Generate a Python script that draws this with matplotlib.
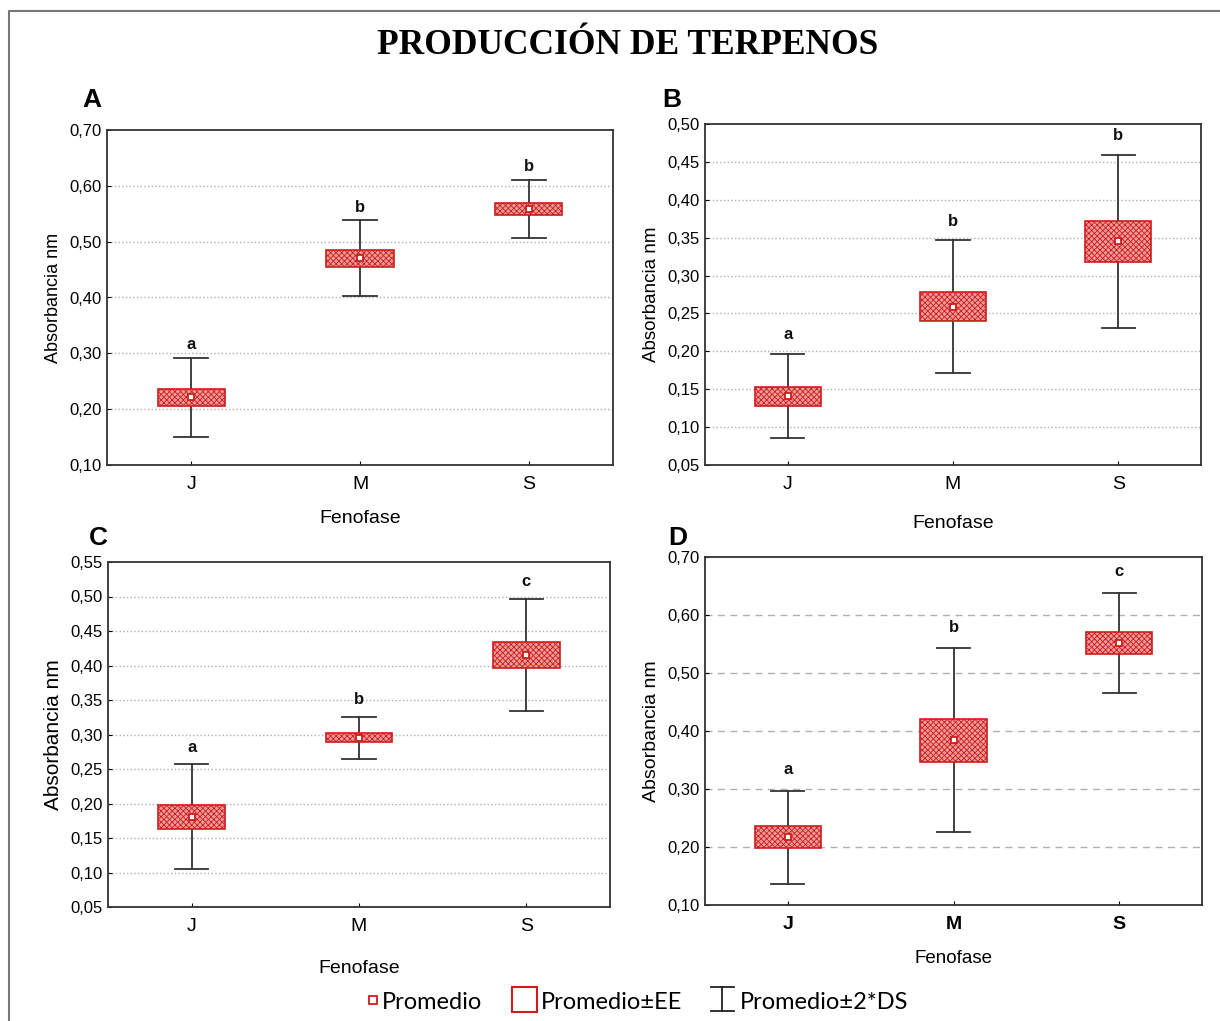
import matplotlib
matplotlib.use("Agg")
import matplotlib.pyplot as plt
from matplotlib.patches import Rectangle
from matplotlib.ticker import FuncFormatter

plt.rcParams["font.family"] = ["Liberation Sans", "DejaVu Sans"]
plt.rcParams["hatch.linewidth"] = 0.6

categories = ["J", "M", "S"]

# panel A
a_mean = [0.221, 0.470, 0.559]
a_ee = [0.015, 0.015, 0.011]
a_ds2 = [0.071, 0.068, 0.052]
a_letters = ["a", "b", "b"]

# panel B
b_mean = [0.141, 0.259, 0.345]
b_ee = [0.0125, 0.0195, 0.0265]
b_ds2 = [0.056, 0.0875, 0.1145]
b_letters = ["a", "b", "b"]

# panel C
c_mean = [0.181, 0.295, 0.415]
c_ee = [0.0175, 0.0065, 0.019]
c_ds2 = [0.076, 0.031, 0.0815]
c_letters = ["a", "b", "c"]

# panel D
d_mean = [0.217, 0.384, 0.552]
d_ee = [0.019, 0.037, 0.019]
d_ds2 = [0.080, 0.1585, 0.086]
d_letters = ["a", "b", "c"]

W, H = 1220, 1021
fig = plt.figure(figsize=(W / 100, H / 100), dpi=100)


def px_axes(left, top, right, bottom):
    return fig.add_axes([left / W, 1 - bottom / H, (right - left) / W, (bottom - top) / H])


def comma(v, pos):
    return f"{v:.2f}".replace(".", ",")


def draw_panel(ax, means, ee, ds2, letters, ylim, step, letter_off, grid_ls,
               xlab_size=14, xlab_pad=12, ylab_size=13, bold_x=False):
    xs = range(len(categories))
    for x, m, e, d in zip(xs, means, ee, ds2):
        ax.plot([x, x], [m - d, m + d], color="#333333", lw=1.3, zorder=2)
        ax.plot([x - 0.1, x + 0.1], [m + d, m + d], color="#333333", lw=1.3, zorder=2)
        ax.plot([x - 0.1, x + 0.1], [m - d, m - d], color="#333333", lw=1.3, zorder=2)
        ax.add_patch(Rectangle((x - 0.2, m - e), 0.4, 2 * e, facecolor="#eb9a9a",
                               edgecolor="#d01c1c", hatch="xxxxxx", lw=1.2, zorder=3))
        ax.plot(x, m, marker="s", ms=5, mfc="white", mec="#d01c1c", mew=1.3, zorder=4)
    for x, m, d, lab in zip(xs, means, ds2, letters):
        ax.annotate(lab, (x, m + d), xytext=(0, letter_off), textcoords="offset pixels",
                    ha="center", va="center", fontsize=12, fontweight="bold", color="#111111")
    ax.set_xlim(-0.5, len(categories) - 0.5)
    ax.set_ylim(*ylim)
    n = int(round((ylim[1] - ylim[0]) / step))
    ticks = [ylim[0] + i * step for i in range(n + 1)]
    ax.set_yticks(ticks)
    ax.yaxis.set_major_formatter(FuncFormatter(comma))
    ax.set_xticks(list(xs))
    ax.set_xticklabels(categories, fontsize=14, fontweight="bold" if bold_x else "normal")
    ax.tick_params(axis="y", direction="in", length=3, labelsize=12, pad=4)
    ax.tick_params(axis="x", direction="in", length=3, pad=8)
    for t in ticks[1:-1]:
        ax.axhline(t, color="#b0b0b0", lw=1.0, ls=grid_ls, zorder=1)
    for s in ax.spines.values():
        s.set_color("#333333")
        s.set_linewidth(1.3)
    ax.set_xlabel("Fenofase", fontsize=xlab_size, labelpad=xlab_pad)
    ax.set_ylabel("Absorbancia nm", fontsize=ylab_size, labelpad=5)


ax_a = px_axes(107, 130, 613, 465)
draw_panel(ax_a, a_mean, a_ee, a_ds2, a_letters, (0.10, 0.70), 0.10, 13, ":",
           xlab_size=14, xlab_pad=12, ylab_size=13)
ax_b = px_axes(705, 124, 1201, 465)
draw_panel(ax_b, b_mean, b_ee, b_ds2, b_letters, (0.05, 0.50), 0.05, 19, ":",
           xlab_size=14, xlab_pad=16, ylab_size=13.5)
ax_c = px_axes(108, 562, 610, 907)
draw_panel(ax_c, c_mean, c_ee, c_ds2, c_letters, (0.05, 0.55), 0.05, 17, ":",
           xlab_size=14, xlab_pad=18, ylab_size=15)
ax_d = px_axes(705, 557, 1202, 905)
draw_panel(ax_d, d_mean, d_ee, d_ds2, d_letters, (0.10, 0.70), 0.10, 21, (0, (5, 4)),
           xlab_size=13.5, xlab_pad=12, ylab_size=14, bold_x=True)

# overlay for title, panel letters, legend and frame
ov = fig.add_axes([0, 0, 1, 1], facecolor="none")
ov.set_xlim(0, W)
ov.set_ylim(H, 0)
ov.axis("off")
ov.plot([9, 9, W], [H, 11, 11], color="#777777", lw=1.5)
ov.text(628, 46, "PRODUCCIÓN DE TERPENOS", ha="center", va="center",
        fontsize=25.5, fontweight="bold", family="Liberation Serif")
for lab, x, y in [("A", 92, 100), ("B", 672, 100), ("C", 98, 538), ("D", 678, 538)]:
    ov.text(x, y, lab, ha="center", va="center", fontsize=19, fontweight="bold")

leg_font = ["Lato", "DejaVu Sans"]
ov.plot(373, 1000, marker="s", ms=6, mfc="white", mec="#d01c1c", mew=1.3, ls="none")
ov.text(382, 1002, "Promedio", ha="left", va="center", fontsize=17, family=leg_font)
ov.add_patch(Rectangle((512, 987), 25, 25, facecolor="white", edgecolor="#d01c1c", lw=1.5))
ov.text(541, 1002, "Promedio±EE", ha="left", va="center", fontsize=17, family=leg_font)
ov.plot([722, 722], [987, 1011], color="#222222", lw=1.3)
ov.plot([711, 734], [987, 987], color="#222222", lw=1.3)
ov.plot([711, 734], [1011, 1011], color="#222222", lw=1.3)
ov.text(740, 1002, "Promedio±2*DS", ha="left", va="center", fontsize=17, family=leg_font)

fig.savefig("out.png", dpi=100)
